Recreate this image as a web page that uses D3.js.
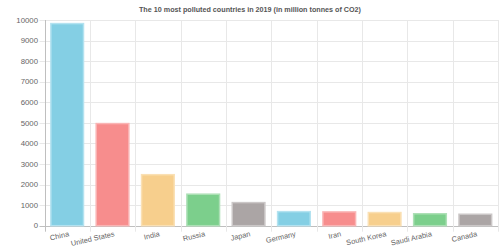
<!DOCTYPE html>
<html>
<head>
<meta charset="utf-8">
<script src="https://cdnjs.cloudflare.com/ajax/libs/d3/7.8.5/d3.min.js"></script>
<style>
  body { margin: 0; background: #fff; }
  svg { display: block; font-family: "Liberation Sans", Arial, sans-serif; }
</style>
</head>
<body>
<figure id="bar" style="margin:0"></figure>
<script>
const countries = ["China", "United States", "India", "Russia", "Japan", "Germany", "Iran", "South Korea", "Saudi Arabia", "Canada"];
const emissions = [9826, 4965, 2480, 1532, 1123, 684, 670, 639, 580, 556];
const yTicks = [0, 1000, 2000, 3000, 4000, 5000, 6000, 7000, 8000, 9000, 10000];
const fills = ["#84cfe4", "#f78d8d", "#f7cf8d", "#7ccf8c", "#aba5a5"];
const strokes = ["#b3e2f0", "#fab4b4", "#fae0b4", "#ade0b6", "#cbc7c7"];

const width = 500, height = 249;
const plotLeft = 44.5, plotRight = 498, plotTop = 20, plotBottom = 225.7;

const svg = d3.select("figure#bar")
  .append("svg")
  .attr("width", width)
  .attr("height", height);

const x = d3.scaleBand().domain(countries).range([plotLeft, plotRight]);
const y = d3.scaleLinear().domain([0, 10000]).range([plotBottom, plotTop]);

// horizontal grid
svg.append("g")
  .selectAll("line")
  .data(yTicks)
  .enter()
  .append("line")
  .attr("x1", plotLeft - 5)
  .attr("x2", plotRight)
  .attr("y1", d => Math.round(y(d)) + 0.5)
  .attr("y2", d => Math.round(y(d)) + 0.5)
  .attr("stroke", d => d === 0 ? "#bfbfbf" : "#e8e8e8");

// vertical grid (category boundaries)
const bounds = countries.map(c => x(c)).concat([plotRight]).slice(1);
svg.append("g")
  .selectAll("line")
  .data(bounds)
  .enter()
  .append("line")
  .attr("x1", d => Math.round(d) + 0.5)
  .attr("x2", d => Math.round(d) + 0.5)
  .attr("y1", plotTop)
  .attr("y2", plotBottom + 6)
  .attr("stroke", "#e8e8e8");

// y axis line
svg.append("line")
  .attr("x1", Math.round(plotLeft) + 0.5)
  .attr("x2", Math.round(plotLeft) + 0.5)
  .attr("y1", plotTop)
  .attr("y2", plotBottom + 6)
  .attr("stroke", "#bfbfbf");

// bars
const bw = x.bandwidth() * 0.72;
svg.append("g")
  .selectAll("rect")
  .data(emissions)
  .enter()
  .append("rect")
  .attr("x", (d, i) => x(countries[i]) + (x.bandwidth() - bw) / 2)
  .attr("width", bw)
  .attr("y", d => y(d))
  .attr("height", d => y(0) - y(d))
  .attr("fill", (d, i) => fills[i % 5])
  .attr("stroke", (d, i) => strokes[i % 5])
  .attr("stroke-width", 1.5);

// y tick labels
svg.append("g")
  .selectAll("text")
  .data(yTicks)
  .enter()
  .append("text")
  .attr("x", plotLeft - 6.5)
  .attr("y", d => y(d))
  .attr("dy", "0.35em")
  .attr("text-anchor", "end")
  .attr("font-size", 7.8)
  .attr("fill", "#666")
  .text(d => d);

// x tick labels, rotated
svg.append("g")
  .selectAll("text")
  .data(countries)
  .enter()
  .append("text")
  .attr("transform", d => "translate(" + (x(d) + x.bandwidth() / 2 + 1) + "," + (plotBottom + 5) + ") rotate(-13)")
  .attr("dy", "0.75em")
  .attr("text-anchor", "end")
  .attr("font-size", 7.4)
  .attr("fill", "#666")
  .text(d => d);

// title
svg.append("text")
  .attr("x", 250)
  .attr("y", 12.3)
  .attr("text-anchor", "middle")
  .attr("font-size", 7.2)
  .attr("font-weight", "bold")
  .attr("fill", "#555")
  .text("The 10 most polluted countries in 2019 (in million tonnes of CO2)");
</script>
</body>
</html>
